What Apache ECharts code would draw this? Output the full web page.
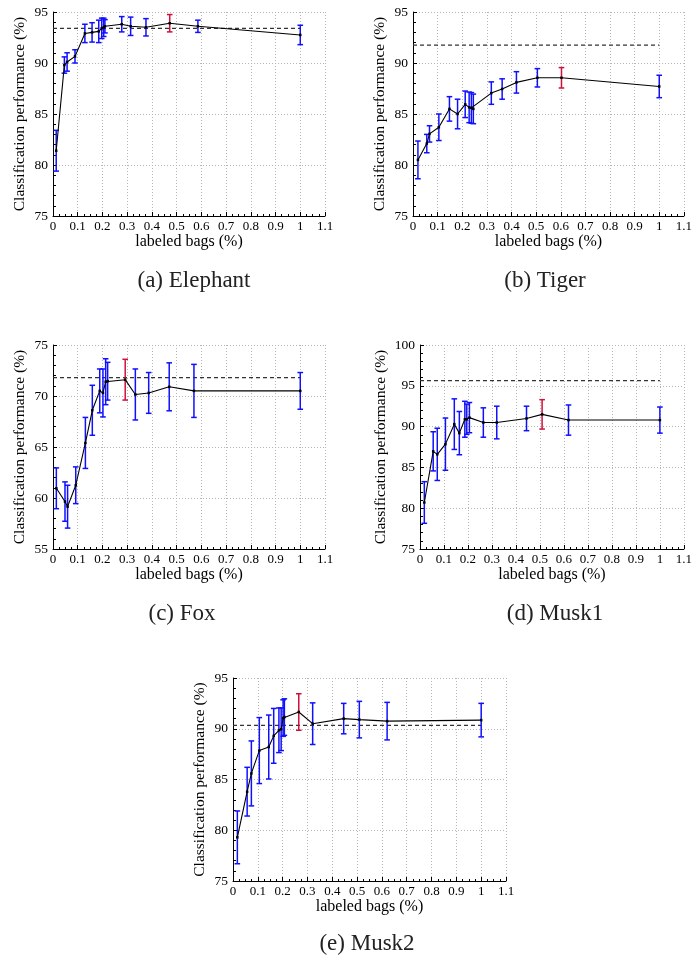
<!DOCTYPE html>
<html>
<head>
<meta charset="utf-8">
<script src="https://cdn.jsdelivr.net/npm/echarts@6/dist/echarts.min.js"></script>
<style>html,body{margin:0;padding:0;background:#fff}#c{width:695px;height:963px}</style>
</head>
<body>
<div id="c"></div>
<script>
// ---------- data ----------
const elephantX    = [0.013,0.046,0.057,0.089,0.129,0.158,0.185,0.197,0.205,0.21,0.278,0.314,0.376,0.472,0.586,1.0];
const elephantMean = [81.4,89.8,90.1,90.65,92.9,93.0,93.1,93.4,93.5,93.6,93.8,93.6,93.5,93.9,93.6,92.75];
const elephantErr  = [2.0,0.8,0.9,0.65,0.9,0.95,1.1,1.0,0.9,0.65,0.75,0.9,0.85,0.85,0.6,0.95];
const elephantBase = 93.4, elephantBest = 13;

const tigerX    = [0.02,0.056,0.067,0.105,0.148,0.181,0.212,0.228,0.237,0.245,0.318,0.362,0.42,0.505,0.603,1.0];
const tigerMean = [80.5,82.1,83.05,83.7,85.5,85.0,85.95,85.65,85.6,85.5,87.05,87.45,88.1,88.55,88.55,87.7];
const tigerErr  = [1.85,0.9,0.8,1.3,1.2,1.45,1.3,1.5,1.5,1.45,1.1,1.0,1.05,0.9,1.0,1.1];
const tigerBase = 91.75, tigerBest = 14;

const foxX    = [0.0135,0.0485,0.059,0.092,0.131,0.159,0.189,0.202,0.213,0.221,0.292,0.333,0.387,0.47,0.57,1.0];
const foxMean = [60.95,59.65,59.15,61.25,65.4,68.6,70.5,70.3,71.4,71.45,71.6,70.15,70.3,70.9,70.5,70.5];
const foxErr  = [2.0,1.93,2.1,1.8,2.5,2.45,2.15,2.35,2.25,1.85,2.0,2.5,2.0,2.35,2.6,1.8];
const foxBase = 71.8, foxBest = 10;

const musk1X    = [0.018,0.055,0.072,0.106,0.143,0.164,0.187,0.195,0.206,0.264,0.32,0.444,0.509,0.619,1.0];
const musk1Mean = [80.7,86.97,86.6,87.85,90.3,89.2,90.9,90.9,91.1,90.5,90.5,91.0,91.5,90.8,90.8];
const musk1Err  = [2.55,2.4,3.2,3.2,3.1,2.65,2.2,1.85,1.85,1.8,2.0,1.5,1.8,1.85,1.6];
const musk1Base = 95.63, musk1Best = 12;

const musk2X    = [0.0175,0.057,0.074,0.106,0.144,0.164,0.185,0.194,0.202,0.207,0.265,0.321,0.446,0.509,0.621,1.0];
const musk2Mean = [79.3,83.8,85.6,87.85,88.2,89.3,89.85,89.95,91.05,91.15,91.65,90.5,91.0,90.9,90.75,90.85];
const musk2Err  = [2.6,2.4,3.2,3.25,3.15,2.7,2.2,2.1,1.8,1.8,1.8,2.05,1.5,1.8,1.85,1.65];
const musk2Base = 90.33, musk2Best = 10;

const xTicks = [0,0.1,0.2,0.3,0.4,0.5,0.6,0.7,0.8,0.9,1,1.1];
const captions = ['(a) Elephant','(b) Tiger','(c) Fox','(d) Musk1','(e) Musk2'];
const yRanges = [[75,95],[75,95],[55,75],[75,100],[75,95]];
const xName = 'labeled bags (%)';
const yName = 'Classification performance (%)';

// ---------- layout ----------
const panels = [
  {x:elephantX,m:elephantMean,e:elephantErr,b:elephantBase,best:elephantBest, g:{left:53,top:12,width:272,height:204}, cap:[194,281], ng:25},
  {x:tigerX,m:tigerMean,e:tigerErr,b:tigerBase,best:tigerBest, g:{left:413,top:12,width:274,height:204}, cap:[545,281], ng:25},
  {x:foxX,m:foxMean,e:foxErr,b:foxBase,best:foxBest, g:{left:53,top:345,width:272,height:204}, cap:[182,614], ng:25},
  {x:musk1X,m:musk1Mean,e:musk1Err,b:musk1Base,best:musk1Best, g:{left:420,top:345,width:267,height:204}, cap:[555,614], ng:31},
  {x:musk2X,m:musk2Mean,e:musk2Err,b:musk2Base,best:musk2Best, g:{left:233,top:678,width:273,height:203}, cap:[367,944], ng:25}
];

const SERIF = "'Liberation Serif', 'DejaVu Serif', serif";
const grids=[], xAxes=[], yAxes=[], series=[], graphics=[];

panels.forEach((p,i)=>{
  grids.push(Object.assign({containLabel:false}, p.g));
  xAxes.push({
    gridIndex:i, type:'value', min:0, max:1.1, interval:0.1,
    name:xName, nameLocation:'middle', nameGap:15,
    nameTextStyle:{fontFamily:SERIF,fontSize:16,color:'#000'},
    axisLine:{show:true,onZero:false,lineStyle:{color:'#000',width:1}},
    axisTick:{show:true,inside:true,length:4,lineStyle:{color:'#000'}},
    minorTick:{show:true,splitNumber:4,length:2,lineStyle:{color:'#000'}},
    axisLabel:{fontFamily:SERIF,fontSize:13,color:'#000',margin:4,
      formatter:v=>String(+v.toFixed(1))},
    splitLine:{show:true,lineStyle:{color:'#b5b5b5',type:[1,2],width:1}}
  });
  yAxes.push({
    gridIndex:i, type:'value', min:yRanges[i][0], max:yRanges[i][1], interval:5,
    name:yName, nameLocation:'middle', nameGap:p.ng,
    nameTextStyle:{fontFamily:SERIF,fontSize:15.5,color:'#000'},
    axisLine:{show:true,onZero:false,lineStyle:{color:'#000',width:1}},
    axisTick:{show:true,inside:true,length:4,lineStyle:{color:'#000'}},
    minorTick:{show:true,splitNumber:5,length:3,lineStyle:{color:'#000'}},
    axisLabel:{fontFamily:SERIF,fontSize:13.5,color:'#000',margin:5},
    splitLine:{show:true,lineStyle:{color:'#b5b5b5',type:[1,2],width:1}}
  });
  // dashed baseline
  series.push({
    type:'line', xAxisIndex:i, yAxisIndex:i, data:[[0,p.b],[1,p.b]],
    symbol:'none', silent:true, z:2,
    lineStyle:{color:'#333',width:1.3,type:[4,3]}
  });
  // error bars
  series.push({
    type:'custom', xAxisIndex:i, yAxisIndex:i, z:3,
    data:p.x.map((x,k)=>[x,p.m[k],p.e[k],k===p.best?1:0]),
    encode:{x:0,y:1},
    renderItem:function(params,api){
      const x=api.value(0), m=api.value(1), e=api.value(2);
      const t=api.coord([x,m+e]), b=api.coord([x,m-e]);
      const col = api.value(3)? '#d0103a' : '#1010ff';
      const w=2.8, st={stroke:col,lineWidth:1.5};
      return {type:'group',children:[
        {type:'line',shape:{x1:t[0],y1:t[1],x2:b[0],y2:b[1]},style:st},
        {type:'line',shape:{x1:t[0]-w,y1:t[1],x2:t[0]+w,y2:t[1]},style:st},
        {type:'line',shape:{x1:b[0]-w,y1:b[1],x2:b[0]+w,y2:b[1]},style:st}
      ]};
    }
  });
  // mean line
  series.push({
    type:'line', xAxisIndex:i, yAxisIndex:i, z:4,
    data:p.x.map((x,k)=>[x,p.m[k]]),
    symbol:'rect', symbolSize:2.5, itemStyle:{color:'#000'},
    lineStyle:{color:'#000',width:1.1}
  });
  graphics.push({type:'text', x:p.cap[0], y:p.cap[1],
    style:{text:captions[i], fontFamily:SERIF, fontSize:23, fill:'#222', textAlign:'center', textVerticalAlign:'middle'}});
});

const chart = echarts.init(document.getElementById('c'),null,{renderer:'canvas'});
chart.setOption({
  animation:false, backgroundColor:'#fff',
  grid:grids, xAxis:xAxes, yAxis:yAxes, series:series, graphic:graphics
});
</script>
</body>
</html>
